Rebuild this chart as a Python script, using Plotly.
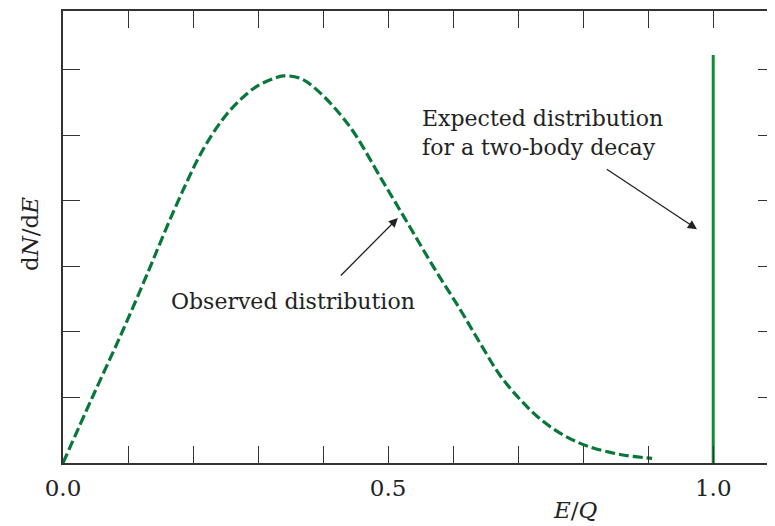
import plotly.graph_objects as go

# Observed beta spectrum (dashed)
energy = [0, 0.045, 0.091, 0.131, 0.149, 0.170, 0.190, 0.208, 0.229, 0.249, 0.272, 0.298,
          0.324, 0.339, 0.365, 0.39, 0.44, 0.49, 0.523, 0.57, 0.611, 0.642, 0.672, 0.703,
          0.734, 0.769, 0.806, 0.857, 0.906]
dnde = [0, 1.0, 2.0, 2.92, 3.35, 3.84, 4.28, 4.65, 5.01, 5.29, 5.54, 5.75,
        5.87, 5.91, 5.87, 5.70, 5.15, 4.33, 3.78, 2.99, 2.34, 1.82, 1.34, 0.97,
        0.67, 0.43, 0.26, 0.13, 0.07]

# Expected two-body line
line_x = [1.0, 1.0]
line_y = [0, 6.23]

x_tickvals = [0.0, 0.1, 0.2, 0.3, 0.4, 0.5, 0.6, 0.7, 0.8, 0.9, 1.0]
x_ticktext = ["0.0", "", "", "", "", "0.5", "", "", "", "", "1.0"]
y_tickvals = [0, 1, 2, 3, 4, 5, 6]

GREEN = "#08773a"
FONT = "DejaVu Serif"
AX = "#333333"
TXT = "#222222"

OFF = 8  # default page body margin
W, H = 775 - OFF, 526 - OFF
ML, MR, MT, MB = 63 - OFF, 0, 11 - OFF, 63


def px_to_paper(px, py):
    # px, py are screen pixels
    return (px - OFF - ML) / (W - ML - MR), (H - MB - (py - OFF)) / (H - MT - MB)


fig = go.Figure()
fig.add_trace(go.Scatter(x=energy, y=dnde, mode="lines",
                         line=dict(color=GREEN, width=3.2, dash="10px,4px", shape="spline", smoothing=1.0),
                         hoverinfo="skip"))
fig.add_trace(go.Scatter(x=line_x, y=line_y, mode="lines",
                         line=dict(color="#118a35", width=3), hoverinfo="skip"))

fig.add_annotation(x=0.515, y=3.74, ax=0.425, ay=2.84, xref="x", yref="y", axref="x", ayref="y",
                   text="", showarrow=True, arrowhead=2, arrowsize=1.4, arrowwidth=1.3, arrowcolor=TXT)
fig.add_annotation(x=0.975, y=3.57, ax=0.834, ay=4.50, xref="x", yref="y", axref="x", ayref="y",
                   text="", showarrow=True, arrowhead=2, arrowsize=1.4, arrowwidth=1.3, arrowcolor=TXT)
fig.add_annotation(x=0.354, y=2.46, xref="x", yref="y", xanchor="center", yanchor="middle",
                   text="Observed distribution",
                   showarrow=False, font=dict(family=FONT, size=22, color=TXT))
fig.add_annotation(x=0.549, y=5.04, xref="x", yref="y", xanchor="left", yanchor="middle", align="left",
                   text="Expected distribution<br>for a two-body decay",
                   showarrow=False, font=dict(family=FONT, size=22, color=TXT))
ex, ey = px_to_paper(575, 510)
fig.add_annotation(x=ex, y=ey, xref="paper", yref="paper", xanchor="center", yanchor="middle",
                   text="<i>E</i>/<i>Q</i>",
                   showarrow=False, font=dict(family=FONT, size=23, color=TXT))
yx, yy = px_to_paper(30, 234)
fig.add_annotation(x=yx, y=yy, xref="paper", yref="paper", xanchor="center", yanchor="middle",
                   text="d<i>N</i>/d<i>E</i>", textangle=-90,
                   showarrow=False, font=dict(family=FONT, size=23, color=TXT))

fig.update_layout(
    width=W, height=H,
    margin=dict(l=ML, r=MR, t=MT, b=MB, autoexpand=False),
    paper_bgcolor="white", plot_bgcolor="white",
    showlegend=False,
    font=dict(family=FONT, size=23, color=TXT),
)
fig.update_xaxes(range=[0, 1.095], tickvals=x_tickvals, ticktext=x_ticktext,
                 ticks="inside", ticklen=17, tickwidth=1.3, tickcolor=AX, ticklabelstandoff=4,
                 showline=True, linecolor=AX, linewidth=1.5, mirror="ticks",
                 showgrid=False, zeroline=False, tickfont=dict(family=FONT, size=23, color=TXT))
fig.update_yaxes(range=[0, 6.9], tickvals=y_tickvals, showticklabels=False,
                 ticks="inside", ticklen=17, tickwidth=1.3, tickcolor=AX,
                 showline=True, linecolor=AX, linewidth=1.5, mirror="ticks",
                 showgrid=False, zeroline=False)

fig.write_html("out.html")
